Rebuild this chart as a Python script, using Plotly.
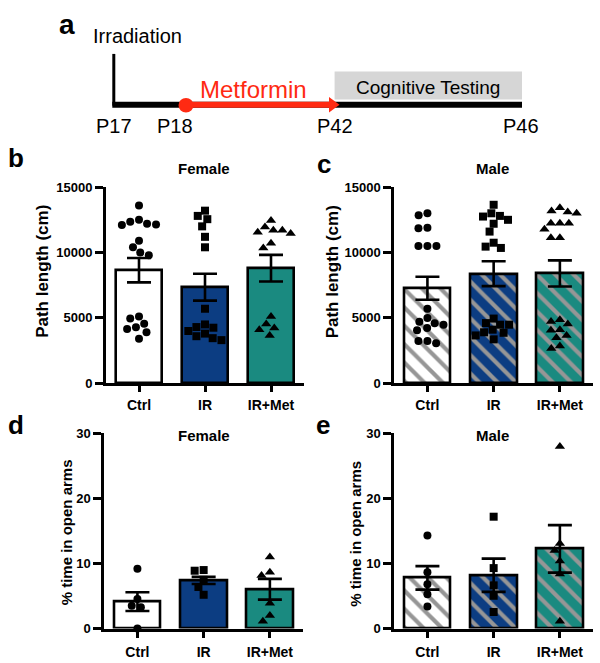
import math
import plotly.graph_objects as go

W, H = 600, 663

# ---------------- data ----------------
categories = ["Ctrl", "IR", "IR+Met"]

# Path length (cm) - Female
female_path_ctrl = [13600, 12500, 12350, 12200, 12150, 12100, 10900, 10400, 10000, 9800,
                    5100, 4950, 4550, 4280, 4150, 3900, 3400]
female_path_ir = [13200, 12800, 12550, 12000, 11200, 10400, 5700, 4500,
                  4300, 4250, 4000, 3800, 3600, 3450, 3300]
female_path_irmet = [12450, 11950, 11700, 11700, 11550, 11450, 10700, 10350,
                     5100, 4530, 4230, 4100, 3650]
female_path_mean = [8650, 7350, 8800]
female_path_sem = [930, 1030, 1020]

# Path length (cm) - Male
male_path_ctrl = [13000, 12850, 11900, 11850, 10500, 10500, 10500,
                  5700, 5000, 4700, 4600, 4480, 4230, 4050, 3230, 3230, 3060]
male_path_ir = [13650, 13000, 12800, 12750, 12500, 12200, 11600, 10750, 10450, 10350,
                4950, 4600, 4480, 4480, 4100, 3900, 3860, 3660, 3360]
male_path_irmet = [13430, 13180, 13100, 13000, 12240, 12240, 12240, 11770, 11120, 11120,
                   4850, 4730, 4530, 4100, 4050, 3650, 3480, 2860, 2660]
male_path_mean = [7270, 8380, 8400]
male_path_sem = [880, 950, 1000]

# % time in open arms - Female
female_open_ctrl = [9.2, 4.55, 3.5, 3.3, 0.0]
female_open_ir = [9.0, 8.9, 7.5, 6.4, 5.2]
female_open_irmet = [11.0, 8.65, 8.15, 3.9, 2.0, 1.15]
female_open_mean = [4.15, 7.4, 6.05]
female_open_sem = [1.45, 0.55, 1.6]

# % time in open arms - Male
male_open_ctrl = [14.3, 8.65, 6.8, 5.3, 3.4]
male_open_ir = [17.2, 9.3, 6.65, 5.05, 2.55]
male_open_irmet = [28.0, 13.1, 12.0, 10.4, 8.4, 1.15]
male_open_mean = [7.8, 8.2, 12.25]
male_open_sem = [1.8, 2.55, 3.65]

path_ticks = [0, 5000, 10000, 15000]
open_ticks = [0, 10, 20, 30]

timeline_labels = ["P17", "P18", "P42", "P46"]

# ---------------- styles ----------------
FONT = "Liberation Sans, Arial, Helvetica, sans-serif"
bar_colors = ["#ffffff", "#0c3d82", "#1a8a80"]
symbols = ["circle", "square", "triangle-up"]
marker_sizes = [8, 8, 9]
RED = "#ff2a12"
HATCH = "#969696"


def X(px):
    return px / W


def Y(py):
    return 1 - py / H


def swarm(vals, ppu, ppc, d):
    """Simple beeswarm: horizontal offsets (category units) so markers do not overlap."""
    order = sorted(range(len(vals)), key=lambda i: -vals[i])
    placed = []
    offs = [0.0] * len(vals)
    for i in order:
        y = vals[i] * ppu
        cands = [0.0]
        for (qx, qy) in placed:
            dy = abs(qy - y)
            if dy < d:
                dx = math.sqrt(d * d - dy * dy)
                cands += [qx + dx, qx - dx]
        cands.sort(key=lambda c: (round(abs(c), 6), c))
        chosen = 0.0
        for c in cands:
            if all((c - qx) ** 2 + (y - qy) ** 2 >= d * d - 1e-6 for qx, qy in placed):
                chosen = c
                break
        placed.append((chosen, y))
        offs[i] = chosen / ppc
    return offs


fig = go.Figure()

panels = [
    # (xaxis, yaxis, groups, mean, sem, hatched, ymax, ticks, xdomain px, ydomain px)
    ("x", "y", [female_path_ctrl, female_path_ir, female_path_irmet], female_path_mean, female_path_sem,
     False, 15000, path_ticks, (106, 304), (385, 184.3)),
    ("x2", "y2", [male_path_ctrl, male_path_ir, male_path_irmet], male_path_mean, male_path_sem,
     True, 15000, path_ticks, (394.3, 593), (385, 184.3)),
    ("x3", "y3", [female_open_ctrl, female_open_ir, female_open_irmet], female_open_mean, female_open_sem,
     False, 30, open_ticks, (104.3, 303), (636, 436.3)),
    ("x4", "y4", [male_open_ctrl, male_open_ir, male_open_irmet], male_open_mean, male_open_sem,
     True, 30, open_ticks, (394.3, 593), (636, 436.3)),
]

layout_axes = {}
for k, (xa, ya, groups, mean, sem, hatched, ymax, ticks, xd, yd) in enumerate(panels):
    xs = list(range(len(categories)))
    for gi in xs:
        marker = dict(color=bar_colors[gi], line=dict(color="black", width=2.6))
        if hatched:
            marker["pattern"] = dict(shape="\\", fgcolor=HATCH, bgcolor=bar_colors[gi], fgopacity=1,
                                     size=13, solidity=0.32, fillmode="replace")
        fig.add_trace(go.Bar(
            x=[gi], y=[mean[gi]], width=0.7, marker=marker, xaxis=xa, yaxis=ya,
            error_y=dict(type="data", array=[sem[gi]], color="black", thickness=2.6, width=12),
            showlegend=False, hoverinfo="skip"))
    ppu = (yd[0] - yd[1]) / ymax
    ppc = (xd[1] - xd[0]) / 3.0
    for gi, vals in enumerate(groups):
        offs = swarm(vals, ppu, ppc, 9.0)
        fig.add_trace(go.Scatter(
            x=[gi + o for o in offs], y=vals, mode="markers", xaxis=xa, yaxis=ya,
            marker=dict(symbol=symbols[gi], size=marker_sizes[gi], color="black", line=dict(width=0)),
            cliponaxis=False, showlegend=False, hoverinfo="skip"))

    suffix = "" if k == 0 else str(k + 1)
    layout_axes["xaxis" + suffix] = dict(
        domain=[X(xd[0]), X(xd[1])], range=[-0.5, 2.5], tickvals=xs, ticktext=categories,
        ticks="outside", ticklen=6, tickwidth=2.6, tickcolor="black",
        showline=True, linewidth=3, linecolor="black", showgrid=False, zeroline=False,
        tickfont=dict(family=FONT, size=14, color="black", weight="bold"),
        anchor=ya, fixedrange=True, ticklabelstandoff=(1 if k < 2 else 3))
    layout_axes["yaxis" + suffix] = dict(
        domain=[Y(yd[0]), Y(yd[1])], range=[0, ymax], tickvals=ticks,
        ticktext=[str(t) for t in ticks],
        ticks="outside", ticklen=8, tickwidth=2.6, tickcolor="black",
        showline=True, linewidth=3, linecolor="black", showgrid=False, zeroline=False,
        tickfont=dict(family=FONT, size=13, color="black", weight="bold"),
        anchor=xa, fixedrange=True)

annotations = []


def text(x, y, s, size, bold=False, color="black", angle=0, xanchor="center"):
    annotations.append(dict(
        x=X(x), y=Y(y), xref="paper", yref="paper", text=s, showarrow=False,
        xanchor=xanchor, yanchor="middle", textangle=angle,
        font=dict(family=FONT, size=size, color=color, weight=("bold" if bold else "normal"))))


# panel letters
text(67, 18, "a", 28, bold=True)
text(16, 154, "b", 26, bold=True)
text(324, 161, "c", 26, bold=True)
text(16, 428, "d", 26, bold=True)
text(323, 428, "e", 26, bold=True)

# panel titles
text(203.5, 165, "Female", 15, bold=True)
text(492.5, 165, "Male", 15, bold=True)
text(203.5, 438, "Female", 15, bold=True)
text(492.5, 438, "Male", 15, bold=True)

# y titles
text(43, 271, "Path length (cm)", 17, bold=True, angle=-90)
text(332.5, 271, "Path length (cm)", 17, bold=True, angle=-90)
text(66.5, 538, "% time in open arms", 15, bold=True, angle=-90)
text(356, 539, "% time in open arms", 15, bold=True, angle=-90)

# ---------------- panel a: timeline schematic ----------------
shapes = []
line_y = 100
shapes.append(dict(type="rect", xref="paper", yref="paper", x0=X(334.6), x1=X(522), y0=Y(94.6), y1=Y(66),
                   fillcolor="#d6d6d6", line=dict(width=0), layer="below"))
shapes.append(dict(type="line", xref="paper", yref="paper", x0=X(113.8), x1=X(113.8), y0=Y(101), y1=Y(48),
                   line=dict(color="black", width=3)))
shapes.append(dict(type="line", xref="paper", yref="paper", x0=X(112.3), x1=X(522), y0=Y(line_y), y1=Y(line_y),
                   line=dict(color="black", width=6)))
shapes.append(dict(type="line", xref="paper", yref="paper", x0=X(186), x1=X(331), y0=Y(line_y), y1=Y(line_y),
                   line=dict(color=RED, width=6)))
shapes.append(dict(type="path", xref="paper", yref="paper",
                   path=f"M {X(329)} {Y(line_y - 8)} L {X(339.5)} {Y(line_y)} L {X(329)} {Y(line_y + 8)} Z",
                   fillcolor=RED, line=dict(width=0)))
shapes.append(dict(type="circle", xref="paper", yref="paper", x0=X(178.5), x1=X(193.5), y0=Y(108), y1=Y(93),
                   fillcolor=RED, line=dict(width=0)))

text(137.5, 29.5, "Irradiation", 20)
text(253.8, 84, "Metformin", 24, color=RED)
text(428, 82, "Cognitive Testing", 19)
for lab, xc in zip(timeline_labels, [114, 174.6, 335, 521]):
    text(xc, 122, lab, 20)

fig.update_layout(
    width=W, height=H, margin=dict(l=0, r=0, t=0, b=0),
    paper_bgcolor="white", plot_bgcolor="rgba(0,0,0,0)",
    showlegend=False, bargap=0, barmode="overlay", annotations=annotations, shapes=shapes,
    **layout_axes)

fig.write_html("out.html", config={"displayModeBar": False},
               post_script="document.body.style.margin='0';document.body.style.padding='0';"
                           "document.body.style.overflow='hidden';")
